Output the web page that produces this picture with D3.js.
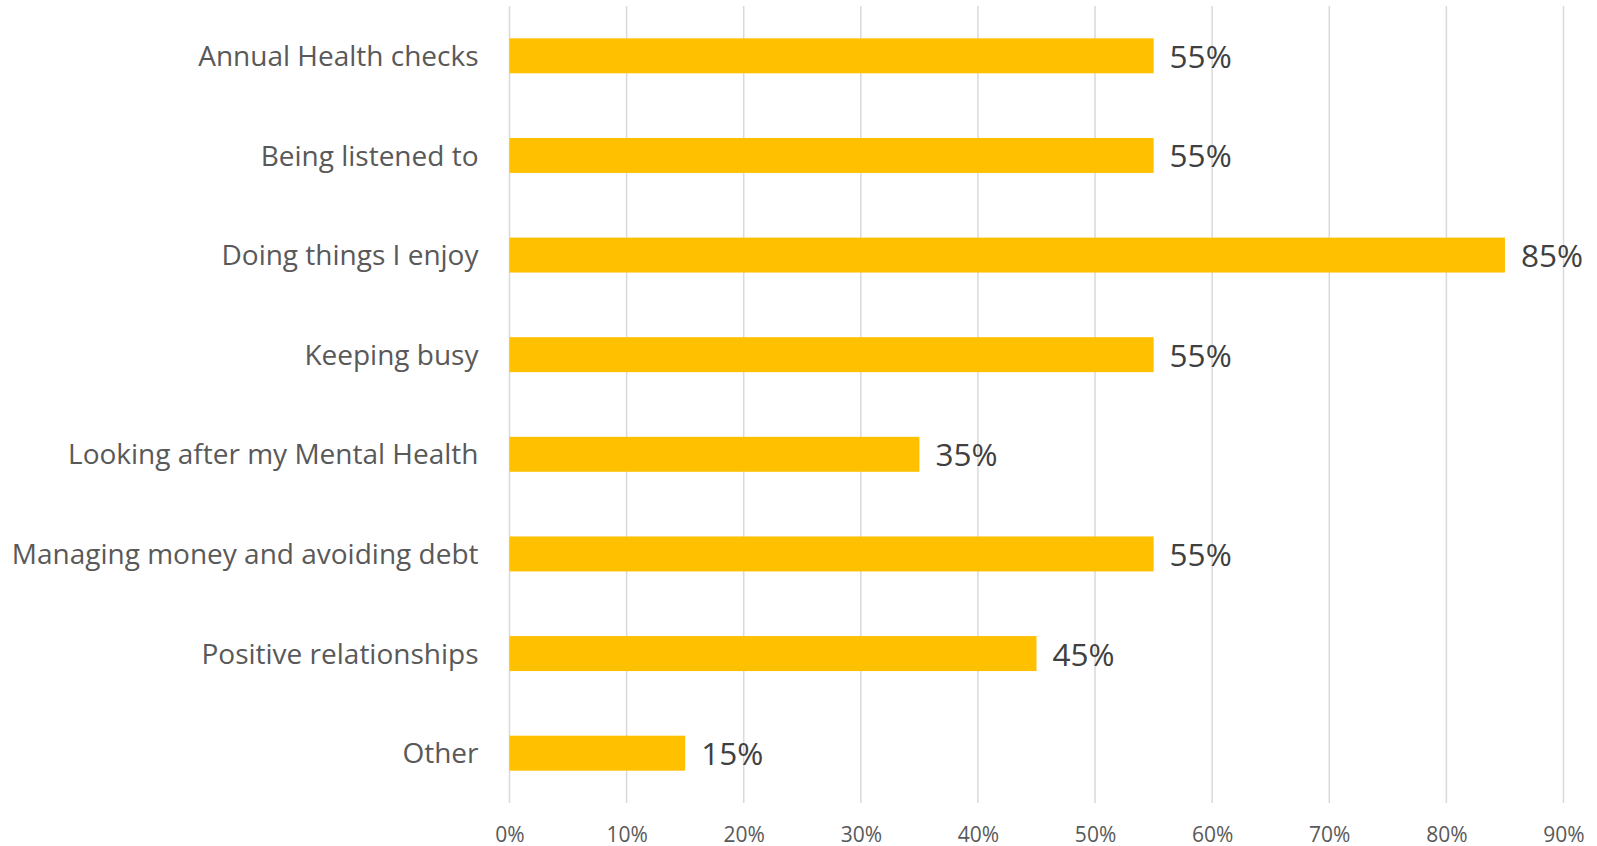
<!DOCTYPE html>
<html>
<head>
<meta charset="utf-8">
<script src="https://cdn.jsdelivr.net/npm/d3@7"></script>
<style>
  html, body { margin: 0; padding: 0; background: #ffffff; }
  svg { display: block; font-family: "Open Sans", sans-serif; }
</style>
</head>
<body>
<svg id="chart" width="1597" height="846"></svg>
<script>
// Survey answers: what helps people stay well
const categories = [
  "Annual Health checks",
  "Being listened to",
  "Doing things I enjoy",
  "Keeping busy",
  "Looking after my Mental Health",
  "Managing money and avoiding debt",
  "Positive relationships",
  "Other"
];
const shares = [0.55, 0.55, 0.85, 0.55, 0.35, 0.55, 0.45, 0.15];
const tickValues = [0, 0.1, 0.2, 0.3, 0.4, 0.5, 0.6, 0.7, 0.8, 0.9];

const svg = d3.select("#chart");
const plot = { left: 509.5, right: 1563.5, top: 6, bottom: 803 };

const x = d3.scaleLinear().domain([0, 0.9]).range([plot.left, plot.right]);
const y = d3.scaleBand()
  .domain(categories)
  .range([plot.top, plot.bottom])
  .paddingInner(0.649)
  .paddingOuter(0.3245);

const pct = d3.format(".0%");

// vertical gridlines
svg.append("g")
  .selectAll("line")
  .data(tickValues)
  .join("line")
  .attr("x1", d => x(d)).attr("x2", d => x(d))
  .attr("y1", plot.top).attr("y2", plot.bottom)
  .attr("stroke", "#d9d9d9")
  .attr("stroke-width", 1.5);

// bottom axis labels
const xAxis = d3.axisBottom(x).tickValues(tickValues).tickFormat(pct).tickSize(0).tickPadding(0);
const gx = svg.append("g").attr("transform", `translate(0,${plot.bottom})`).call(xAxis);
gx.select(".domain").remove();
gx.selectAll("text")
  .attr("y", 38.5)
  .attr("dy", null)
  .attr("fill", "#595959")
  .style("font-family", "'Open Sans', sans-serif")
  .style("font-size", "21px");

// category labels
const yAxis = d3.axisLeft(y).tickSize(0).tickPadding(0);
const gy = svg.append("g").attr("transform", `translate(${plot.left - 31},0)`).call(yAxis);
gy.select(".domain").remove();
gy.selectAll("text")
  .attr("x", 0)
  .attr("dy", "0.36em")
  .attr("fill", "#595959")
  .style("font-family", "'Open Sans', sans-serif")
  .style("font-size", "28px");

// bars
svg.append("g")
  .selectAll("rect")
  .data(categories)
  .join("rect")
  .attr("x", x(0))
  .attr("y", d => y(d))
  .attr("width", (d, i) => x(shares[i]) - x(0))
  .attr("height", y.bandwidth())
  .attr("fill", "#FFC000");

// value labels
svg.append("g")
  .selectAll("text")
  .data(categories)
  .join("text")
  .attr("x", (d, i) => x(shares[i]) + 16)
  .attr("y", d => y(d) + y.bandwidth() / 2 + 12)
  .attr("fill", "#404040")
  .style("font-size", "31.5px")
  .text((d, i) => pct(shares[i]));
</script>
</body>
</html>
